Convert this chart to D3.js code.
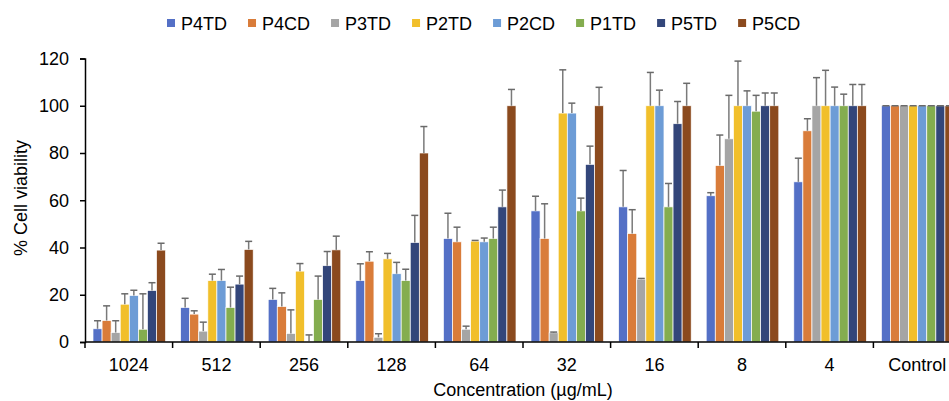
<!DOCTYPE html>
<html>
<head>
<meta charset="utf-8">
<script src="https://cdn.jsdelivr.net/npm/d3@7"></script>
<style>
  body { margin: 0; background: #fff; }
  svg { display: block; font-family: "Liberation Sans", Arial, sans-serif; }
</style>
</head>
<body>
<div id="chart"></div>
<script>
// concentrations on the x axis
const categories = ["1024", "512", "256", "128", "64", "32", "16", "8", "4", "Control"];
const seriesNames = ["P4TD", "P4CD", "P3TD", "P2TD", "P2CD", "P1TD", "P5TD", "P5CD"];
const seriesColors = ["#5470c6", "#d97c3a", "#a5a5a5", "#f1bf2b", "#6d9cd6", "#84ad4f", "#33467a", "#8b4a1e"];
const yTicks = [0, 20, 40, 60, 80, 100, 120];

// mean % viability, one row per series, one value per concentration
const P4TD = [5.6, 14.6, 18.0, 26.0, 43.8, 55.5, 57.2, 61.9, 67.8, 100];
const P4CD = [9.1, 11.8, 15.0, 34.2, 42.4, 43.8, 45.9, 74.7, 89.4, 100];
const P3TD = [4.0, 4.6, 3.6, 2.0, 5.4, 3.9, 26.6, 86.0, 100, 100];
const P2TD = [16.0, 26.0, 30.0, 35.2, 42.7, 96.9, 100, 100, 100, 100];
const P2CD = [19.7, 26.0, 0.3, 28.9, 42.4, 96.9, 100, 100, 100, 100];
const P1TD = [5.4, 14.6, 18.0, 26.0, 43.8, 55.5, 57.2, 97.7, 100, 100];
const P5TD = [21.8, 24.5, 32.3, 42.1, 57.2, 75.2, 92.4, 100, 100, 100];
const P5CD = [38.9, 39.2, 39.0, 80.0, 100, 100, 100, 100, 100, 100];

// standard deviation (upper error bar only)
const P4TD_err = [3.4, 3.9, 4.7, 7.1, 10.7, 6.2, 15.4, 1.3, 10.0, 0];
const P4CD_err = [6.2, 1.4, 5.8, 4.0, 6.2, 14.7, 10.1, 12.9, 5.1, 0];
const P3TD_err = [5.0, 3.8, 10.0, 1.5, 1.3, 0.3, 0.3, 18.4, 11.9, 0];
const P2TD_err = [4.4, 2.7, 3.2, 2.3, 0.3, 18.3, 14.1, 18.9, 15.0, 0];
const P2CD_err = [2.2, 4.7, 2.7, 4.8, 1.6, 4.2, 6.6, 6.3, 7.9, 0];
const P1TD_err = [15.0, 8.6, 9.9, 4.8, 4.8, 5.4, 9.9, 6.7, 4.9, 0];
const P5TD_err = [3.3, 3.4, 6.0, 11.5, 7.1, 7.7, 9.4, 5.4, 9.0, 0];
const P5CD_err = [2.9, 3.4, 5.8, 11.2, 6.9, 7.8, 9.5, 5.4, 9.0, 0];

const values = [P4TD, P4CD, P3TD, P2TD, P2CD, P1TD, P5TD, P5CD];
const errors = [P4TD_err, P4CD_err, P3TD_err, P2TD_err, P2CD_err, P1TD_err, P5TD_err, P5CD_err];

const width = 949, height = 401;
const plotLeft = 85, plotRight = 961, plotTop = 58.5, plotBottom = 342;

const svg = d3.select("#chart").append("svg")
  .attr("width", width)
  .attr("height", height);

const x0 = d3.scaleBand().domain(categories).range([plotLeft, plotRight]);
const x1 = d3.scaleBand().domain(seriesNames).range([8, x0.bandwidth() - 7]);
const y = d3.scaleLinear().domain([0, 120]).range([plotBottom, plotTop]);
const color = d3.scaleOrdinal().domain(seriesNames).range(seriesColors);

// flatten to one record per bar
let bars = [];
categories.forEach((c, i) => {
  seriesNames.forEach((s, j) => {
    bars.push({ cat: c, series: s, value: values[j][i], err: errors[j][i] });
  });
});

const g = svg.append("g");

g.selectAll("rect.bar")
  .data(bars)
  .enter()
  .append("rect")
  .attr("class", "bar")
  .attr("x", d => x0(d.cat) + x1(d.series))
  .attr("y", d => y(d.value))
  .attr("width", x1.bandwidth())
  .attr("height", d => y(0) - y(d.value))
  .attr("fill", d => color(d.series))
  .attr("stroke", "#ffffff")
  .attr("stroke-width", 0.7);

// error bars
const capW = 7;
const eb = g.selectAll("g.err").data(bars).enter().append("g").attr("class", "err");
eb.append("line")
  .attr("x1", d => x0(d.cat) + x1(d.series) + x1.bandwidth() / 2)
  .attr("x2", d => x0(d.cat) + x1(d.series) + x1.bandwidth() / 2)
  .attr("y1", d => y(d.value))
  .attr("y2", d => y(d.value + d.err))
  .attr("stroke", "#7a7a7a")
  .attr("stroke-width", 1.5);
eb.append("line")
  .attr("x1", d => x0(d.cat) + x1(d.series) + x1.bandwidth() / 2 - capW / 2)
  .attr("x2", d => x0(d.cat) + x1(d.series) + x1.bandwidth() / 2 + capW / 2)
  .attr("y1", d => y(d.value + d.err))
  .attr("y2", d => y(d.value + d.err))
  .attr("stroke", "#6a6a6a")
  .attr("stroke-width", 1.5);

// y axis
const yAxis = svg.append("g")
  .attr("transform", "translate(" + plotLeft + ",0)")
  .call(d3.axisLeft(y).tickValues(yTicks).tickSize(5).tickPadding(11));
yAxis.select(".domain").attr("stroke", "#000").attr("stroke-width", 1.5);
yAxis.selectAll(".tick line").attr("stroke", "#000").attr("stroke-width", 1.5);
yAxis.selectAll("text").style("font-size", "18px").attr("fill", "#000");

// x axis: ticks sit on group boundaries
const xAxis = svg.append("g").attr("transform", "translate(0," + plotBottom + ")");
xAxis.append("line")
  .attr("x1", plotLeft).attr("x2", plotRight)
  .attr("stroke", "#000").attr("stroke-width", 1.5);
xAxis.selectAll("line.tk")
  .data(categories)
  .enter()
  .append("line")
  .attr("class", "tk")
  .attr("x1", d => x0(d)).attr("x2", d => x0(d))
  .attr("y1", 0).attr("y2", 6)
  .attr("stroke", "#000").attr("stroke-width", 1.5);
xAxis.selectAll("text")
  .data(categories)
  .enter()
  .append("text")
  .attr("x", d => x0(d) + x0.bandwidth() / 2)
  .attr("y", 29)
  .attr("text-anchor", "middle")
  .style("font-size", "18px")
  .text(d => d);

// axis titles
svg.append("text")
  .attr("transform", "translate(27,198) rotate(-90)")
  .attr("text-anchor", "middle")
  .style("font-size", "18px")
  .text("% Cell viability");

svg.append("text")
  .attr("x", (plotLeft + plotRight) / 2)
  .attr("y", 396)
  .attr("text-anchor", "middle")
  .style("font-size", "18px")
  .text("Concentration (µg/mL)");

// legend
const legend = svg.append("g");
let lx = 167;
seriesNames.forEach((s, i) => {
  const item = legend.append("g").attr("transform", "translate(" + lx + ",0)");
  item.append("rect")
    .attr("x", 0).attr("y", 19)
    .attr("width", 8).attr("height", 8)
    .attr("fill", seriesColors[i]);
  const t = item.append("text")
    .attr("x", 14).attr("y", 30)
    .style("font-size", "18px")
    .text(s);
  lx += 14 + t.node().getComputedTextLength() + 21;
});
</script>
</body>
</html>
